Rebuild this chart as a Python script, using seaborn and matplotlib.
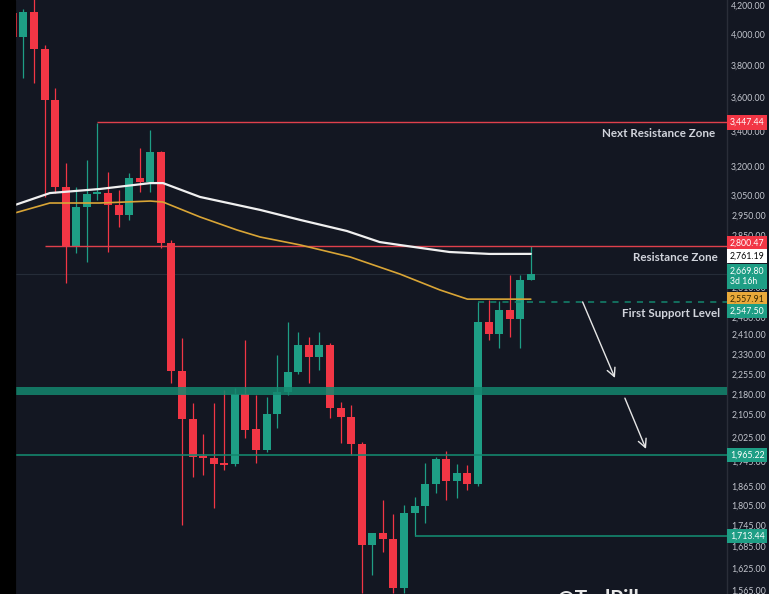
import numpy as np
import pandas as pd
import matplotlib
matplotlib.use("Agg")
import matplotlib.pyplot as plt
import seaborn as sns
from matplotlib.patches import Rectangle

# ---- dados (velas diárias, escala log) ----
opens = [4148, 3983, 4155, 3903, 3581, 3091, 2798, 2989, 3055, 3060,
         2999, 2949, 3139, 3118, 3280, 2812, 2265, 2089, 1959, 1956,
         1939, 1936, 2179, 2054, 1982, 2107, 2186, 2262, 2367, 2320,
         2367, 2128, 2096, 2003, 1688, 1723, 1706, 1570, 1782, 1803,
         1872, 1952, 1881, 1907, 1872, 2461, 2412, 2511, 2473, 2642]
highs = [4169, 4176, 4260, 3930, 3654, 3219, 3091, 3236, 3447, 3171,
         3076, 3165, 3302, 3404, 3285, 2827, 2395, 2146, 2037, 2146,
         2194, 2201, 2387, 2175, 2168, 2328, 2461, 2420, 2399, 2420,
         2375, 2150, 2139, 2010, 1723, 1822, 1779, 1806, 1831, 1939,
         1959, 1979, 1936, 1933, 2546, 2554, 2550, 2664, 2664, 2800]
lows = [3963, 3716, 3685, 3040, 3060, 2629, 2765, 2724, 3024, 2770,
        2889, 2924, 3065, 3065, 2789, 2220, 1747, 1894, 1900, 1797,
        1917, 1930, 2023, 1939, 1976, 2057, 2175, 2254, 2220, 2269,
        2093, 2006, 1966, 1557, 1605, 1669, 1557, 1557, 1714, 1752,
        1843, 1822, 1828, 1853, 1865, 2387, 2355, 2399, 2355, 2642]
closes = [3983, 4155, 3903, 3581, 3091, 2798, 2989, 3055, 3060, 2999,
          2949, 3139, 3118, 3280, 2812, 2265, 2089, 1959, 1956, 1936,
          1933, 2179, 2050, 1982, 2107, 2186, 2262, 2367, 2320, 2367,
          2128, 2096, 2003, 1688, 1723, 1706, 1570, 1782, 1803, 1872,
          1952, 1881, 1907, 1872, 2461, 2412, 2511, 2473, 2642, 2669.8]

# médias móveis (pontos lidos)
white_idx = [0.2, 3.5, 8.2, 13.0, 14.2, 17.7, 20.8, 23.4, 27.2, 31.6, 34.7, 36.6, 41.3, 45.1, 49]
white_ma = [2999, 3060, 3081, 3112, 3112, 3040, 3004, 2974, 2924, 2870, 2817, 2803, 2770, 2761, 2761.19]
orange_idx = [0.2, 3.5, 8.2, 13.0, 14.2, 17.7, 21.2, 23.4, 27.2, 31.9, 36.6, 40.4, 43.0, 49]
orange_ma = [2959, 3009, 3009, 3019, 3014, 2939, 2875, 2841, 2803, 2747, 2669, 2598, 2558, 2557.91]

# níveis
next_resistance = 3447.44
resistance = 2800.47
support_first = 2547.50
support_band = (2175, 2205)
support_2 = 1965.22
support_3 = 1713.44
last_price = 2669.80

y_ticks = [4200, 4000, 3800, 3600, 3400, 3200, 3050, 2950, 2850, 2750, 2610, 2480,
           2410, 2330, 2255, 2180, 2105, 2025, 1945, 1865, 1805, 1745, 1685, 1625, 1565]

BG = "#131722"
GREEN = "#1e9e85"
RED = "#f23645"
TEAL = "#14876e"
TXT = "#c3c6ce"

sns.set_style("dark", {"axes.facecolor": BG, "figure.facecolor": BG})
plt.rcParams["font.family"] = ["Lato", "DejaVu Sans"]

df = pd.DataFrame({"open": opens, "high": highs, "low": lows, "close": closes})
df["idx"] = np.arange(len(df))
df["up"] = df["close"] >= df["open"]
df["color"] = np.where(df["up"], GREEN, RED)

fig = plt.figure(figsize=(7.69, 5.94), dpi=100)
ax = fig.add_axes([15 / 769, 0, 712 / 769, 1])
ax.set_facecolor(BG)

# faixa preta à esquerda
fig.patches.append(Rectangle((0, 0), 15 / 769, 1, transform=fig.transFigure,
                             color="black", zorder=0))

# velas
ax.vlines(df["idx"], df["low"], df["high"], colors=df["color"], lw=0.9, zorder=2)
body_lo = df[["open", "close"]].min(axis=1)
body_h = (df["open"] - df["close"]).abs().clip(lower=df["close"] * 0.004)
ax.bar(df["idx"], body_h, bottom=body_lo, width=0.76, color=df["color"],
       linewidth=0, zorder=3)

# médias móveis
sns.lineplot(x=white_idx, y=white_ma, ax=ax, color="#f0f0f0", lw=1.6, zorder=5)
sns.lineplot(x=orange_idx, y=orange_ma, ax=ax, color="#d9a536", lw=1.2, zorder=5)

ax.set_yscale("log")
ax.set_ylim(1554.4, 4240)
ax.set_xlim(0.2, 67.56)

# linhas horizontais
xmax = 67.56
ax.hlines(next_resistance, 8, xmax, color="#e0404c", lw=1.0, zorder=4)
ax.hlines(resistance, 3, xmax, color="#e0404c", lw=1.0, zorder=4)
ax.axhspan(*support_band, color=TEAL, alpha=0.85, lw=0, zorder=4)
ax.axhline(support_2, color=TEAL, lw=1.3, alpha=0.9, zorder=4)
ax.hlines(support_3, 38, xmax, color=TEAL, lw=1.2, zorder=4)
ax.hlines(support_first, 44, xmax, color=TEAL, lw=1.1, linestyles=(0, (4, 4)), zorder=4)
ax.axhline(last_price, color="#252c38", lw=0.8, zorder=1)

# setas
arrows = [((53.9, 2546), (56.96, 2239)), ((57.9, 2164), (59.9, 1986))]
for start, end in arrows:
    ax.annotate("", xy=end, xytext=start,
                arrowprops=dict(arrowstyle="->,head_length=0.6,head_width=0.3",
                                color="#e6e6e6", lw=1.0, shrinkA=0, shrinkB=0), zorder=6)

# textos
lab_kw = dict(ha="right", va="center", fontsize=8.4, fontweight="bold",
              color="#d1d4dc", zorder=7, transform=ax.get_yaxis_transform())
ax.text(0.984, 3385, "Next Resistance Zone", **lab_kw)
ax.text(0.987, 2745, "Resistance Zone", **lab_kw)
ax.text(0.99, 2496, "First Support Level", **lab_kw)

# eixo de preços à direita
ax.yaxis.tick_right()
ax.set_yticks(y_ticks)
ax.set_yticklabels([f"{v:,.2f}" for v in y_ticks])
ax.yaxis.set_minor_locator(matplotlib.ticker.NullLocator())
ax.tick_params(axis="y", which="both", length=0, pad=3, labelsize=6.3, labelcolor=TXT)
ax.set_xticks([])
ax.grid(False)
for side in ["top", "bottom"]:
    ax.spines[side].set_visible(False)
for side in ["left", "right"]:
    ax.spines[side].set_color("#2a2e39")
    ax.spines[side].set_linewidth(1.0)


def price_tag(price, text, fc, tc, dy=0):
    ax.annotate(text, xy=(1.0, price), xycoords=ax.get_yaxis_transform(),
                xytext=(2.2, dy), textcoords="offset points", ha="left", va="center",
                fontsize=6.3, color=tc, zorder=20, annotation_clip=False,
                bbox=dict(boxstyle="square,pad=0.3", fc=fc, ec="none"))


price_tag(next_resistance, "3,447.44", "#f23645", "white")
price_tag(resistance, "2,800.47", "#f23645", "white", dy=1.8)
price_tag(2761.19, "2,761.19", "white", "black", dy=-1.5)
price_tag(last_price, "2,669.80\n3d 16h", GREEN, "white", dy=-2)
price_tag(2557.91, "2,557.91", "#e9a93a", "#3a2a00")
price_tag(support_first, "2,547.50", GREEN, "white", dy=-7)
price_tag(support_2, "1,965.22", GREEN, "white")
price_tag(support_3, "1,713.44", GREEN, "white")

# marca d'água cortada no rodapé
fig.text(557 / 769, -11.5 / 594, "@TedPillows", ha="left", va="baseline", fontsize=15,
         fontweight="bold", color="#e8e8e8")

fig.savefig("out.png", dpi=100, facecolor=BG)
